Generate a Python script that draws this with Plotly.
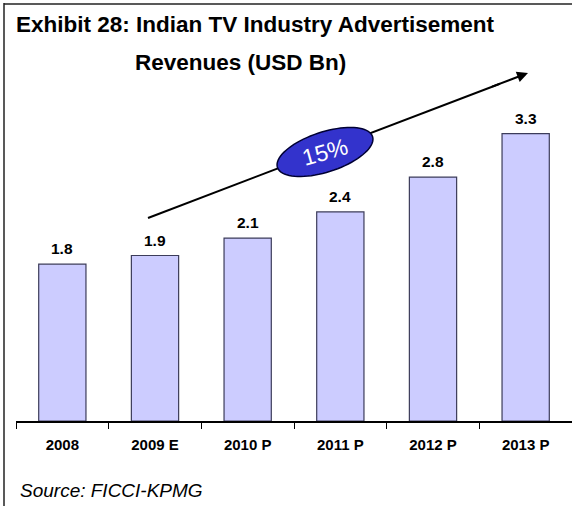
import numpy as np
import plotly.graph_objects as go

categories = ["2008", "2009 E", "2010 P", "2011 P", "2012 P", "2013 P"]
values = [1.8, 1.9, 2.1, 2.4, 2.8, 3.3]
value_labels = ["1.8", "1.9", "2.1", "2.4", "2.8", "3.3"]
cagr_label = "15%"

W, H = 572, 506
ML, MR, MT, MB = 16, 0, 90, 85
PW, PH = W - ML - MR, H - MT - MB

def px(x):
    return (x - ML) / PW

def py(y):
    return (H - MB - y) / PH

fig = go.Figure()
fig.add_trace(go.Bar(
    x=categories, y=values,
    marker=dict(color="#CCCCFF", line=dict(color="#3C3C5A", width=1.2)),
    hoverinfo="skip",
))

font = "Liberation Sans, Arial, sans-serif"
annotations = []
for i, (v, t) in enumerate(zip(values, value_labels)):
    annotations.append(dict(x=i, y=v, xref="x", yref="y", text="<b>%s</b>" % t,
                            showarrow=False, yanchor="bottom", yshift=5,
                            font=dict(family=font, size=15.5, color="#000")))

# title lines
annotations.append(dict(x=px(14), y=py(25), xref="paper", yref="paper",
                        text="<b>Exhibit 28: Indian TV Industry Advertisement</b>",
                        showarrow=False, xanchor="left", yanchor="middle",
                        font=dict(family=font, size=22.5, color="#000")))
annotations.append(dict(x=px(133), y=py(62), xref="paper", yref="paper",
                        text="<b>Revenues (USD Bn)</b>",
                        showarrow=False, xanchor="left", yanchor="middle",
                        font=dict(family=font, size=22.5, color="#000")))
# source
annotations.append(dict(x=px(18), y=py(490), xref="paper", yref="paper",
                        text="<i>Source: FICCI-KPMG</i>",
                        showarrow=False, xanchor="left", yanchor="middle",
                        font=dict(family=font, size=19, color="#000")))

# trend arrow: line shape (behind ellipse) + short arrowhead annotation
hx, hy, tx, ty = 528, 73, 148, 218
d = np.hypot(tx - hx, ty - hy)
ux, uy = (tx - hx) / d, (ty - hy) / d
annotations.append(dict(x=px(hx), y=py(hy), xref="paper", yref="paper",
                        ax=40 * ux, ay=40 * uy, text="", showarrow=True,
                        arrowhead=2, arrowsize=1.1, arrowwidth=2, arrowcolor="#000"))

# ellipse (rotated)
cx, cy, a, b, th = 325, 152, 50, 20, np.deg2rad(-18)
t = np.linspace(0, 2 * np.pi, 80)
ex = cx + a * np.cos(t) * np.cos(th) - b * np.sin(t) * np.sin(th)
ey = cy + a * np.cos(t) * np.sin(th) + b * np.sin(t) * np.cos(th)
path = "M " + " L ".join("%.5f,%.5f" % (px(x), py(y)) for x, y in zip(ex, ey)) + " Z"
shapes = [
    dict(type="line", xref="paper", yref="paper",
         x0=px(tx), y0=py(ty), x1=px(hx + 30 * ux), y1=py(hy + 30 * uy),
         line=dict(color="#000", width=2), layer="above"),
    dict(type="path", path=path, xref="paper", yref="paper",
         fillcolor="#3333CC", line=dict(color="#000033", width=1.5), layer="above"),
    dict(type="line", xref="paper", yref="paper", x0=px(4), x1=px(4), y0=py(3), y1=py(506),
         line=dict(color="#222", width=1.5)),
    dict(type="line", xref="paper", yref="paper", x0=px(4), x1=px(572), y0=py(4), y1=py(4),
         line=dict(color="#222", width=1.5)),
]
annotations.append(dict(x=px(cx), y=py(cy), xref="paper", yref="paper",
                        xanchor="center", yanchor="middle",
                        text=cagr_label, showarrow=False, textangle=-16,
                        font=dict(family=font, size=23, color="#FFFFFF")))

fig.update_layout(
    width=W, height=H,
    margin=dict(l=ML, r=MR, t=MT, b=MB, autoexpand=False),
    paper_bgcolor="white", plot_bgcolor="white",
    showlegend=False, bargap=0.49,
    xaxis=dict(type="category", range=[-0.5, len(categories) - 0.5],
               showline=True, linecolor="#000", linewidth=1.5,
               ticks="outside", tickson="boundaries", ticklen=6, tickcolor="#000",
               tickwidth=1.2, ticklabelstandoff=9, tickangle=0, automargin=False,
               tickfont=dict(family=font, size=15, color="#000"),
               tickprefix="<b>", ticksuffix="</b>", showgrid=False),
    yaxis=dict(range=[0, 3.8], visible=False, showgrid=False),
    annotations=annotations, shapes=shapes,
)

fig.write_html("out.html", config={"displayModeBar": False},
               post_script="document.body.style.margin='0';")
